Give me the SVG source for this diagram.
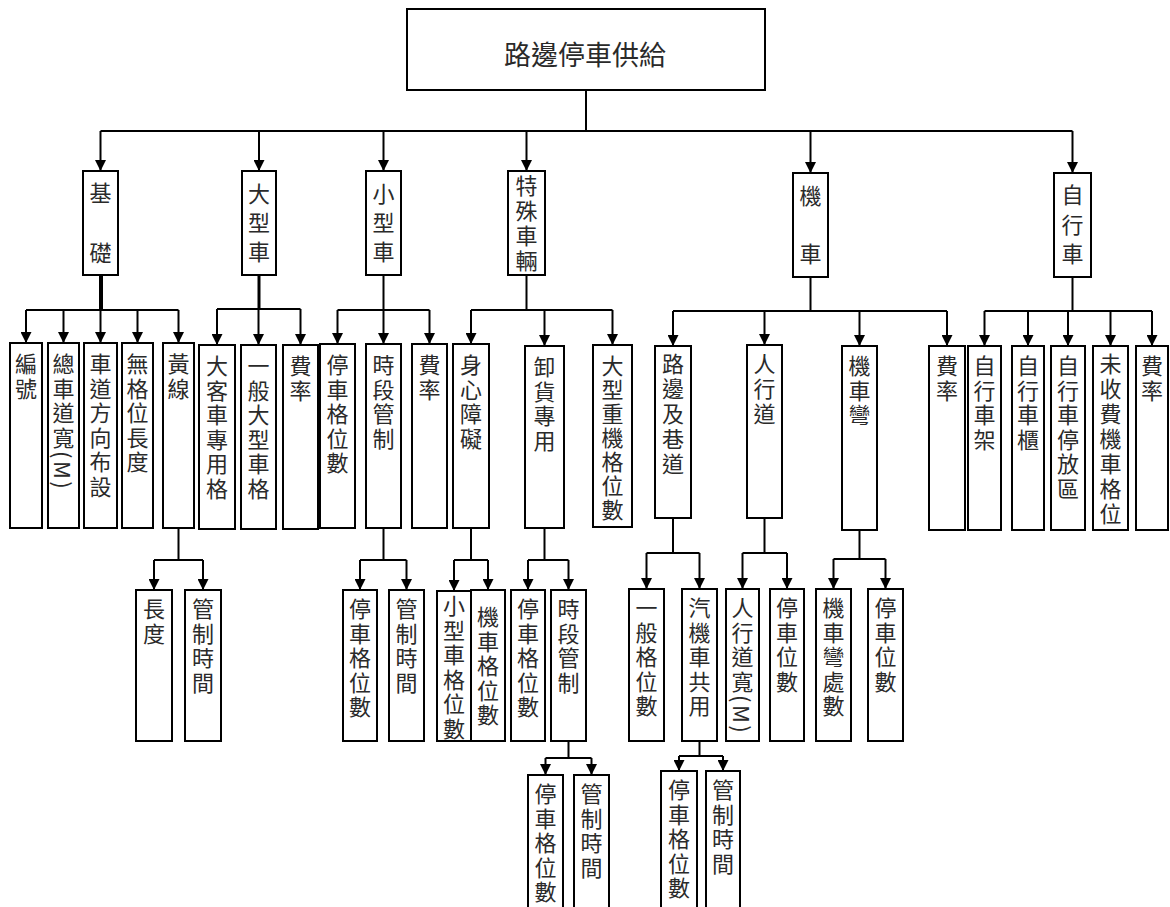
<svg xmlns="http://www.w3.org/2000/svg" width="1170" height="907" viewBox="0 0 1170 907">
<style>
.box{fill:#fff;stroke:#000;stroke-width:2}
.t{font-family:"Noto Sans CJK TC","Noto Sans CJK SC","Noto Sans CJK JP",sans-serif;font-size:22px;fill:#2a2a2a;dominant-baseline:central}
.r{font-size:27px;text-anchor:middle}
.v{writing-mode:vertical-rl;text-orientation:mixed;text-anchor:start;letter-spacing:2.5px}
.c{fill:none;stroke:#000;stroke-width:2}
.a{fill:none;stroke:#000;stroke-width:2;marker-end:url(#ah)}
</style>
<defs>
<marker id="ah" viewBox="0 0 10 10" refX="10" refY="5" markerWidth="11" markerHeight="11" markerUnits="userSpaceOnUse" orient="auto"><path d="M0,0 L10,5 L0,10 z" fill="#000"/></marker>
</defs>
<rect width="1170" height="907" fill="#fff"/>
<g id="connectors">
<path class="c" d="M586,90 V131 M100.5,131 H1072.5"/>
<path class="a" d="M100.5,131 V171"/>
<path class="a" d="M259,131 V171"/>
<path class="a" d="M383.5,131 V171"/>
<path class="a" d="M526.5,131 V171"/>
<path class="a" d="M810.5,131 V173"/>
<path class="a" d="M1072.5,131 V173"/>
<path class="c" d="M101,275 V310" style="stroke-width:4"/>
<path class="c" d="M26,310 H178.5"/>
<path class="a" d="M26,310 V343"/><path class="a" d="M63.5,310 V343"/><path class="a" d="M100.5,310 V343"/><path class="a" d="M137.5,310 V343"/><path class="a" d="M178.5,310 V343"/>
<path class="c" d="M259,275 V309" style="stroke-width:3"/>
<path class="c" d="M217,309 H300.5"/>
<path class="a" d="M217,309 V345"/><path class="a" d="M258.5,309 V345"/><path class="a" d="M300.5,309 V345"/>
<path class="c" d="M383.5,275 V310 M337.5,310 H429.5"/>
<path class="a" d="M337.5,310 V344"/><path class="a" d="M383.5,310 V344"/><path class="a" d="M429.5,310 V344"/>
<path class="c" d="M526.5,275 V310 M471,310 H612.5"/>
<path class="a" d="M471,310 V344"/><path class="a" d="M544.5,310 V346"/><path class="a" d="M612.5,310 V345"/>
<path class="c" d="M810.5,277 V311 M673,311 H947"/>
<path class="a" d="M673,311 V346"/><path class="a" d="M764.5,311 V345"/><path class="a" d="M859.5,311 V346"/><path class="a" d="M947,311 V346"/>
<path class="c" d="M1072.5,277 V311 M984.5,311 H1152"/>
<path class="a" d="M984.5,311 V346"/><path class="a" d="M1028,311 V346"/><path class="a" d="M1068,311 V346"/><path class="a" d="M1110.5,311 V346"/><path class="a" d="M1152,311 V346"/>
<path class="c" d="M178.5,528 V560 M154,560 H203"/>
<path class="a" d="M154,560 V590"/><path class="a" d="M203,560 V590"/>
<path class="c" d="M383.5,528 V560 M360,560 H406.5"/>
<path class="a" d="M360,560 V590"/><path class="a" d="M406.5,560 V590"/>
<path class="c" d="M471,528 V560 M454,560 H488"/>
<path class="a" d="M454,560 V591"/><path class="a" d="M488,560 V590"/>
<path class="c" d="M544.5,528 V560 M528,560 H568.5"/>
<path class="a" d="M528,560 V590"/><path class="a" d="M568.5,560 V590"/>
<path class="c" d="M673,518 V553 M646.5,553 H699.5"/>
<path class="a" d="M646.5,553 V589"/><path class="a" d="M699.5,553 V589"/>
<path class="c" d="M764.5,518 V553 M742.5,553 H787"/>
<path class="a" d="M742.5,553 V589"/><path class="a" d="M787,553 V589"/>
<path class="c" d="M859.5,530 V559 M833.5,559 H885.5"/>
<path class="a" d="M833.5,559 V589"/><path class="a" d="M885.5,559 V589"/>
<path class="c" d="M568.5,741 V758 M545.5,758 H591.5"/>
<path class="a" d="M545.5,758 V775"/><path class="a" d="M591.5,758 V775"/>
<path class="c" d="M699.5,741 V756 M679,756 H723"/>
<path class="a" d="M679,756 V771"/><path class="a" d="M723,756 V771"/>
</g>
<g id="root"><rect class="box" x="407" y="9" width="358" height="81"/><text class="t r" x="585" y="53">路邊停車供給</text></g>
<g id="n-jichu"><rect class="box" x="83" y="171" width="35" height="104"/><text class="t v" x="100.5" y="182" style="letter-spacing:38px">基礎</text></g>
<g id="n-daxing"><rect class="box" x="242" y="171" width="34" height="104"/><text class="t v" x="259" y="183" style="letter-spacing:7px">大型車</text></g>
<g id="n-xiaoxing"><rect class="box" x="366" y="171" width="35" height="104"/><text class="t v" x="383.5" y="183" style="letter-spacing:7px">小型車</text></g>
<g id="n-teshu"><rect class="box" x="508" y="171" width="37" height="104"/><text class="t v" x="526.5" y="175" style="letter-spacing:3px">特殊車輛</text></g>
<g id="n-jiche"><rect class="box" x="793" y="173" width="35" height="104"/><text class="t v" x="810.5" y="185" style="letter-spacing:36px">機車</text></g>
<g id="n-zixing"><rect class="box" x="1054" y="173" width="37" height="104"/><text class="t v" x="1072.5" y="184" style="letter-spacing:7.5px">自行車</text></g>
<g id="n-bianhao"><rect class="box" x="10" y="343" width="32" height="185"/><text class="t v" x="26" y="353">編號</text></g>
<g id="n-zongkuan"><rect class="box" x="48" y="343" width="31" height="185"/><text class="t v" x="63.5" y="353">總車道寬(M)</text></g>
<g id="n-fangxiang"><rect class="box" x="84" y="343" width="33" height="185"/><text class="t v" x="100.5" y="353">車道方向布設</text></g>
<g id="n-wugewei"><rect class="box" x="122" y="343" width="31" height="185"/><text class="t v" x="137.5" y="353">無格位長度</text></g>
<g id="n-huangxian"><rect class="box" x="163" y="343" width="31" height="185"/><text class="t v" x="178.5" y="353">黃線</text></g>
<g id="n-dake"><rect class="box" x="199" y="345" width="36" height="184"/><text class="t v" x="217" y="355">大客車專用格</text></g>
<g id="n-yibandaxing"><rect class="box" x="241" y="345" width="35" height="184"/><text class="t v" x="258.5" y="355">一般大型車格</text></g>
<g id="n-feilv1"><rect class="box" x="283" y="345" width="35" height="184"/><text class="t v" x="300.5" y="355">費率</text></g>
<g id="n-tingche1"><rect class="box" x="320" y="344" width="35" height="184"/><text class="t v" x="337.5" y="354">停車格位數</text></g>
<g id="n-shiduan1"><rect class="box" x="366" y="344" width="35" height="184"/><text class="t v" x="383.5" y="354">時段管制</text></g>
<g id="n-feilv2"><rect class="box" x="412" y="344" width="35" height="184"/><text class="t v" x="429.5" y="354">費率</text></g>
<g id="n-shenxin"><rect class="box" x="453" y="344" width="36" height="184"/><text class="t v" x="471" y="354">身心障礙</text></g>
<g id="n-xiehuo"><rect class="box" x="525" y="346" width="39" height="182"/><text class="t v" x="544.5" y="356">卸貨專用</text></g>
<g id="n-zhongji"><rect class="box" x="593" y="345" width="39" height="182"/><text class="t v" x="612.5" y="355" style="letter-spacing:2px">大型重機格位數</text></g>
<g id="n-lubian"><rect class="box" x="655" y="346" width="36" height="172"/><text class="t v" x="673" y="353" style="letter-spacing:3px">路邊及巷道</text></g>
<g id="n-renxing"><rect class="box" x="747" y="345" width="35" height="173"/><text class="t v" x="764.5" y="353" style="letter-spacing:3px">人行道</text></g>
<g id="n-jichewan"><rect class="box" x="842" y="346" width="35" height="184"/><text class="t v" x="859.5" y="355">機車彎</text></g>
<g id="n-feilv3"><rect class="box" x="929" y="346" width="36" height="184"/><text class="t v" x="947" y="355">費率</text></g>
<g id="n-chejia"><rect class="box" x="968" y="346" width="33" height="184"/><text class="t v" x="984.5" y="355">自行車架</text></g>
<g id="n-chegui"><rect class="box" x="1012" y="346" width="32" height="184"/><text class="t v" x="1028" y="355">自行車櫃</text></g>
<g id="n-tingfang"><rect class="box" x="1051" y="346" width="34" height="184"/><text class="t v" x="1068" y="355">自行車停放區</text></g>
<g id="n-weishou"><rect class="box" x="1093" y="346" width="35" height="184"/><text class="t v" x="1110.5" y="353" style="letter-spacing:3px">未收費機車格位</text></g>
<g id="n-feilv4"><rect class="box" x="1136" y="346" width="32" height="184"/><text class="t v" x="1152" y="355">費率</text></g>
<g id="n-changdu"><rect class="box" x="136" y="590" width="36" height="151"/><text class="t v" x="154" y="598">長度</text></g>
<g id="n-guanzhi1"><rect class="box" x="185" y="590" width="36" height="151"/><text class="t v" x="203" y="598">管制時間</text></g>
<g id="n-tingche2"><rect class="box" x="343" y="590" width="34" height="151"/><text class="t v" x="360" y="598">停車格位數</text></g>
<g id="n-guanzhi2"><rect class="box" x="389" y="590" width="35" height="151"/><text class="t v" x="406.5" y="598">管制時間</text></g>
<g id="n-xiaoxingge"><rect class="box" x="437" y="591" width="34" height="150"/><text class="t v" x="454" y="595">小型車格位數</text></g>
<g id="n-jichege"><rect class="box" x="471" y="590" width="34" height="151"/><text class="t v" x="488" y="606">機車格位數</text></g>
<g id="n-tingche3"><rect class="box" x="511" y="590" width="34" height="151"/><text class="t v" x="528" y="598">停車格位數</text></g>
<g id="n-shiduan2"><rect class="box" x="551" y="590" width="35" height="151"/><text class="t v" x="568.5" y="598">時段管制</text></g>
<g id="n-yibange"><rect class="box" x="629" y="589" width="35" height="152"/><text class="t v" x="646.5" y="597">一般格位數</text></g>
<g id="n-qijiche"><rect class="box" x="682" y="589" width="35" height="152"/><text class="t v" x="699.5" y="597">汽機車共用</text></g>
<g id="n-renxingkuan"><rect class="box" x="726" y="589" width="33" height="152"/><text class="t v" x="742.5" y="597">人行道寬(M)</text></g>
<g id="n-tingchewei1"><rect class="box" x="770" y="589" width="34" height="152"/><text class="t v" x="787" y="597">停車位數</text></g>
<g id="n-wanchushu"><rect class="box" x="816" y="589" width="35" height="152"/><text class="t v" x="833.5" y="597">機車彎處數</text></g>
<g id="n-tingchewei2"><rect class="box" x="868" y="589" width="35" height="152"/><text class="t v" x="885.5" y="597">停車位數</text></g>
<g id="n-tingche4"><rect class="box" x="528" y="775" width="35" height="140"/><text class="t v" x="545.5" y="783">停車格位數</text></g>
<g id="n-guanzhi3"><rect class="box" x="574" y="775" width="35" height="140"/><text class="t v" x="591.5" y="783">管制時間</text></g>
<g id="n-tingche5"><rect class="box" x="661" y="771" width="36" height="144"/><text class="t v" x="679" y="779">停車格位數</text></g>
<g id="n-guanzhi4"><rect class="box" x="706" y="771" width="34" height="144"/><text class="t v" x="723" y="779">管制時間</text></g>
</svg>
